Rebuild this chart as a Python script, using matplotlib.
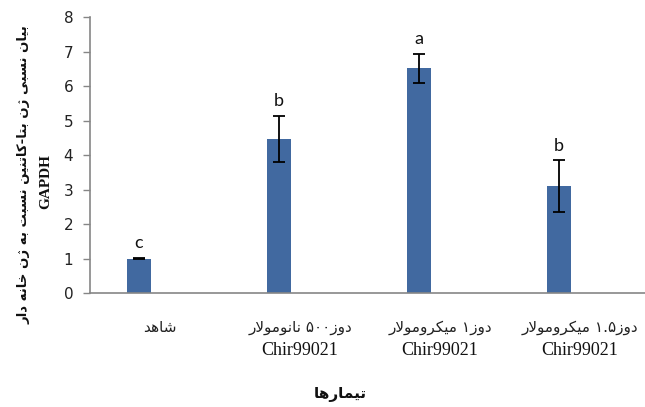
import re
import matplotlib
matplotlib.use("Agg")
import matplotlib.pyplot as plt
import matplotlib.transforms as mtransforms

# ---- data -------------------------------------------------------------
treatments = ["شاهد", "دوز۵۰۰ نانومولار", "دوز۱ میکرومولار", "دوز۱.۵ میکرومولار"]
compound = ["", "Chir99021", "Chir99021", "Chir99021"]
expression = [1.0, 4.47, 6.52, 3.10]
error = [0.02, 0.67, 0.42, 0.75]
groups = ["c", "b", "a", "b"]
y_ticks = [0, 1, 2, 3, 4, 5, 6, 7, 8]
y_title = "بیان نسبی ژن بتا-کاتنین نسبت به ژن خانه دار"
y_title_2 = "GAPDH"
x_title = "تیمارها"

# ---- minimal Persian shaping (presentation forms) ---------------------
FORMS = {
    "ا": ("\uFE8D", "\uFE8E"),
    "ب": ("\uFE8F", "\uFE90", "\uFE91", "\uFE92"),
    "ت": ("\uFE95", "\uFE96", "\uFE97", "\uFE98"),
    "خ": ("\uFEA5", "\uFEA6", "\uFEA7", "\uFEA8"),
    "د": ("\uFEA9", "\uFEAA"),
    "ر": ("\uFEAD", "\uFEAE"),
    "ز": ("\uFEAF", "\uFEB0"),
    "ژ": ("\uFB8A", "\uFB8B"),
    "س": ("\uFEB1", "\uFEB2", "\uFEB3", "\uFEB4"),
    "ش": ("\uFEB5", "\uFEB6", "\uFEB7", "\uFEB8"),
    "ک": ("\uFB8E", "\uFB8F", "\uFB90", "\uFB91"),
    "ل": ("\uFEDD", "\uFEDE", "\uFEDF", "\uFEE0"),
    "م": ("\uFEE1", "\uFEE2", "\uFEE3", "\uFEE4"),
    "ن": ("\uFEE5", "\uFEE6", "\uFEE7", "\uFEE8"),
    "ه": ("\uFEE9", "\uFEEA", "\uFEEB", "\uFEEC"),
    "و": ("\uFEED", "\uFEEE"),
    "ی": ("\uFBFC", "\uFBFD", "\uFBFE", "\uFBFF"),
}
DIGIT_RUN = re.compile(r"[0-9\u06F0-\u06F9]+(?:[.\u066B][0-9\u06F0-\u06F9]+)*")


def _joins_forward(ch):
    return ch in FORMS and len(FORMS[ch]) == 4


def shape(text):
    """Return glyphs in logical order, using contextual forms."""
    out = []
    i, n = 0, len(text)
    while i < n:
        c = text[i]
        if c not in FORMS:
            out.append(c)
            i += 1
            continue
        prev_j = i > 0 and _joins_forward(text[i - 1])
        if c == "ل" and i + 1 < n and text[i + 1] == "ا":
            out.append("\uFEFC" if prev_j else "\uFEFB")
            i += 2
            continue
        next_j = _joins_forward(c) and i + 1 < n and text[i + 1] in FORMS
        f = FORMS[c]
        if prev_j and next_j:
            out.append(f[3])
        elif prev_j:
            out.append(f[1])
        elif next_j:
            out.append(f[2])
        else:
            out.append(f[0])
        i += 1
    return out


def rtl(text):
    """Visual (left-to-right) string for a right-to-left line; numbers stay LTR."""
    glyphs = "".join(shape(text))
    runs, pos = [], 0
    for m in DIGIT_RUN.finditer(glyphs):
        if m.start() > pos:
            runs.append(glyphs[pos:m.start()][::-1])
        runs.append(m.group())
        pos = m.end()
    if pos < len(glyphs):
        runs.append(glyphs[pos:][::-1])
    return "".join(reversed(runs))


# ---- figure -----------------------------------------------------------
W, H = 645, 407
fig = plt.figure(figsize=(W / 100, H / 100), dpi=100)
ax = fig.add_axes([90 / W, (H - 293.3) / H, 560 / W, 276 / H])

bar_color = "#4169a0"
axis_grey = "#868686"
x = list(range(len(expression)))
bx = [i - 0.15 for i in x]

ax.bar(bx, expression, width=0.165, color=bar_color, zorder=2,
       yerr=error, capsize=4,
       error_kw=dict(ecolor="black", elinewidth=1.3, capthick=1.3, zorder=3))

for xi, v, e, g in zip(bx, expression, error, groups):
    ax.annotate(g, (xi, v + e), xytext=(0, 5), textcoords="offset points",
                ha="center", va="bottom", fontsize=13, family="Lato",
                color="#111111")

ax.set_xlim(-0.5, 3.5)
ax.set_ylim(0, 8)
ax.set_yticks(y_ticks)
ax.set_yticklabels([str(t) for t in y_ticks], fontsize=11, family="DejaVu Sans",
                   color="#222222")
ax.tick_params(axis="y", length=5, width=1, color=axis_grey, pad=7)
ax.tick_params(axis="x", length=0, pad=19)

ax.set_xticks(x)
ax.set_xticklabels([rtl(t) for t in treatments], fontsize=11,
                   family="DejaVu Sans", color="#222222")

trans = mtransforms.blended_transform_factory(ax.transData, ax.transAxes)
for xi, c in zip(x, compound):
    if c:
        ax.text(xi, -57 / 276, c, transform=trans, ha="center", va="center",
                fontsize=13, family="Liberation Serif", color="#111111")

for s in ("top", "right"):
    ax.spines[s].set_visible(False)
for s in ("left", "bottom"):
    ax.spines[s].set_color(axis_grey)
    ax.spines[s].set_linewidth(1.2)

fig.text(24 / W, 1 - 175 / H, rtl(y_title), rotation=90, ha="center", va="center",
         fontsize=9.5, fontweight="bold", family="DejaVu Sans", color="#111111")
fig.text(46 / W, 1 - 182 / H, y_title_2, rotation=90, ha="center", va="center",
         fontsize=11, fontweight="bold", family="Liberation Serif", color="#111111")
fig.text(340 / W, 1 - 394 / H, rtl(x_title), ha="center", va="center",
         fontsize=11, fontweight="bold", family="DejaVu Sans", color="#111111")

fig.savefig("out.png", dpi=100, facecolor="white")
